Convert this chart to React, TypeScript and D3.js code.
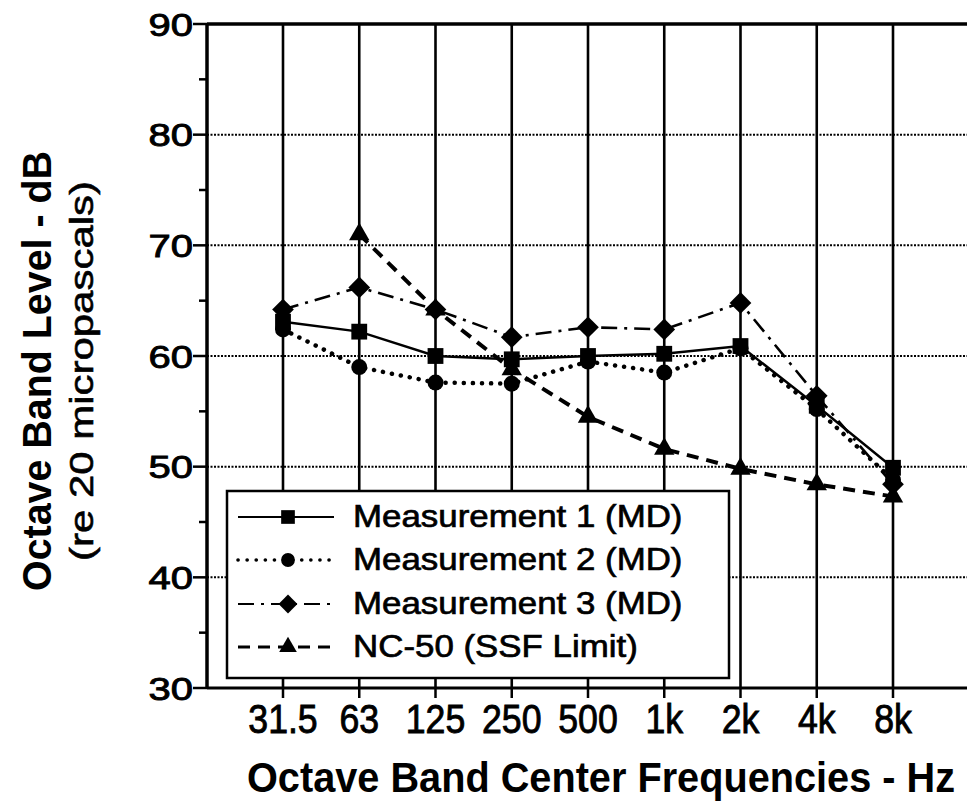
import React, { useEffect, useRef } from "react";
import * as d3 from "d3";

// octave band centre frequencies
const categories = ["31.5", "63", "125", "250", "500", "1k", "2k", "4k", "8k"];

// levels in dB
const measurement1 = [63.1, 62.2, 60.0, 59.7, 60.0, 60.2, 60.9, 55.5, 49.9];
const measurement2 = [62.4, 59.0, 57.6, 57.5, 59.5, 58.5, 60.7, 55.2, 48.8];
const measurement3 = [64.2, 66.2, 64.2, 61.7, 62.6, 62.4, 64.8, 56.4, 48.4];
const nc50 = [null, 71.0, 64.2, 58.8, 54.5, 51.6, 49.8, 48.4, 47.3];

const yTicks = [30, 40, 50, 60, 70, 80, 90];
const yMinorTicks = [35, 45, 55, 65, 75, 85];

const seriesNames = [
  "Measurement 1 (MD)",
  "Measurement 2 (MD)",
  "Measurement 3 (MD)",
  "NC-50 (SSF Limit)",
];

type Style = { dash: string | null; width: number; cap: string; symbol: d3.SymbolType; size: number };

const styles: Style[] = [
  { dash: null, width: 2.4, cap: "butt", symbol: d3.symbolSquare, size: 250 },
  { dash: "0.1,9", width: 4.5, cap: "round", symbol: d3.symbolCircle, size: 200 },
  { dash: "16,7,3,7", width: 2.6, cap: "butt", symbol: d3.symbolDiamond2, size: 300 },
  { dash: "12,8", width: 4, cap: "butt", symbol: d3.symbolTriangle, size: 180 },
];

export default function App() {
  const svgRef = useRef<SVGSVGElement>(null);

  useEffect(() => {
    const svg = d3.select(svgRef.current);
    svg.selectAll("*").remove();

    const left = 207, right = 967, top = 24, bottom = 688;
    const font = "'Liberation Sans', Arial, Helvetica, sans-serif";

    const x = d3.scalePoint<string>().domain(categories).range([283, 893]);
    const y = d3.scaleLinear().domain([30, 90]).range([bottom, top]);

    const g = svg.append("g").attr("font-family", font).attr("fill", "#000");

    // grid
    g.selectAll("line.hgrid")
      .data(yTicks.filter(d => d > 30 && d < 90))
      .enter()
      .append("line")
      .attr("x1", left).attr("x2", right)
      .attr("y1", d => y(d)).attr("y2", d => y(d))
      .attr("stroke", "#000")
      .attr("stroke-width", 2)
      .attr("stroke-dasharray", "2,1.5");

    g.selectAll("line.vgrid")
      .data(categories)
      .enter()
      .append("line")
      .attr("x1", d => x(d)!).attr("x2", d => x(d)!)
      .attr("y1", top).attr("y2", bottom)
      .attr("stroke", "#000")
      .attr("stroke-width", 2.6);

    // axes
    g.append("line")
      .attr("x1", left).attr("x2", right).attr("y1", top).attr("y2", top)
      .attr("stroke", "#000").attr("stroke-width", 3.5);
    g.append("line")
      .attr("x1", left).attr("x2", right).attr("y1", bottom).attr("y2", bottom)
      .attr("stroke", "#000").attr("stroke-width", 3);
    g.append("line")
      .attr("x1", left).attr("x2", left).attr("y1", top - 1).attr("y2", bottom + 1)
      .attr("stroke", "#000").attr("stroke-width", 3.5);

    g.selectAll("line.ytick")
      .data(yTicks)
      .enter()
      .append("line")
      .attr("x1", left - 14).attr("x2", left)
      .attr("y1", d => y(d)).attr("y2", d => y(d))
      .attr("stroke", "#000").attr("stroke-width", 2.5);
    g.selectAll("line.yminor")
      .data(yMinorTicks)
      .enter()
      .append("line")
      .attr("x1", left - 8).attr("x2", left)
      .attr("y1", d => y(d)).attr("y2", d => y(d))
      .attr("stroke", "#000").attr("stroke-width", 2.5);

    g.selectAll("g.ylabel")
      .data(yTicks)
      .enter()
      .append("g")
      .attr("transform", d => `translate(193,${y(d) + 11.5})`)
      .append("text")
      .attr("transform", "scale(1.25,1)")
      .attr("text-anchor", "end")
      .attr("font-size", 32)
      .attr("stroke", "#000").attr("stroke-width", 0.9)
      .text(d => d);

    g.selectAll("line.xtick")
      .data(categories)
      .enter()
      .append("line")
      .attr("x1", d => x(d)!).attr("x2", d => x(d)!)
      .attr("y1", bottom).attr("y2", bottom + 10)
      .attr("stroke", "#000").attr("stroke-width", 2.5);

    g.selectAll("g.xlabel")
      .data(categories)
      .enter()
      .append("g")
      .attr("transform", d => `translate(${x(d)},733)`)
      .append("text")
      .attr("transform", "scale(0.87,1)")
      .attr("text-anchor", "middle")
      .attr("font-size", 41)
      .attr("stroke", "#000").attr("stroke-width", 0.9)
      .text(d => d);

    // titles
    g.append("g")
      .attr("transform", "translate(247,792)")
      .append("text")
      .attr("transform", "scale(1,1.05)")
      .attr("font-size", 40).attr("font-weight", "bold")
      .attr("textLength", 708).attr("lengthAdjust", "spacingAndGlyphs")
      .text("Octave Band Center Frequencies - Hz");

    g.append("text")
      .attr("transform", "translate(51,371) rotate(-90)")
      .attr("text-anchor", "middle")
      .attr("font-size", 40).attr("font-weight", "bold")
      .attr("textLength", 440).attr("lengthAdjust", "spacingAndGlyphs")
      .text("Octave Band Level - dB");

    g.append("text")
      .attr("transform", "translate(93,371) rotate(-90)")
      .attr("text-anchor", "middle")
      .attr("font-size", 34)
      .attr("stroke", "#000").attr("stroke-width", 0.6)
      .attr("textLength", 380).attr("lengthAdjust", "spacingAndGlyphs")
      .text("(re 20 micropascals)");

    // series
    const allSeries = [measurement1, measurement2, measurement3, nc50];
    const line = d3.line<number | null>()
      .defined(d => d !== null)
      .x((d, i) => x(categories[i])!)
      .y(d => y(d as number));

    allSeries.forEach((values, k) => {
      const s = styles[k];
      g.append("path")
        .datum(values)
        .attr("d", line)
        .attr("fill", "none")
        .attr("stroke", "#000")
        .attr("stroke-width", s.width)
        .attr("stroke-linecap", s.cap)
        .attr("stroke-dasharray", s.dash);

      g.selectAll(`path.m${k}`)
        .data(values.map((v, i) => ({ v, c: categories[i] })).filter(d => d.v !== null))
        .enter()
        .append("path")
        .attr("transform", d => `translate(${x(d.c)},${y(d.v as number)})`)
        .attr("d", d3.symbol().type(s.symbol).size(s.size)())
        .attr("fill", "#000");
    });

    // legend
    const legend = g.append("g");
    legend.append("rect")
      .attr("x", 227).attr("y", 491).attr("width", 502).attr("height", 187)
      .attr("fill", "#fff").attr("stroke", "#000").attr("stroke-width", 2.5);

    const baselines = [527, 570, 614, 657];
    seriesNames.forEach((name, k) => {
      const s = styles[k];
      const cy = baselines[k] - 10;
      legend.append("line")
        .attr("x1", 238).attr("x2", 334).attr("y1", cy).attr("y2", cy)
        .attr("stroke", "#000")
        .attr("stroke-width", s.width * 0.8)
        .attr("stroke-linecap", s.cap)
        .attr("stroke-dasharray", s.dash);
      legend.append("path")
        .attr("transform", `translate(288,${cy})`)
        .attr("d", d3.symbol().type(s.symbol).size(s.size * 0.75)())
        .attr("fill", "#000");
      legend.append("g")
        .attr("transform", `translate(353,${baselines[k]})`)
        .append("text")
        .attr("transform", "scale(1.09,1)")
        .attr("font-size", 32)
        .attr("stroke", "#000").attr("stroke-width", 0.7)
        .text(name);
    });
  }, []);

  return (
    <svg
      ref={svgRef}
      width={967}
      height={804}
      style={{ position: "absolute", left: 0, top: 0, background: "#fff" }}
    />
  );
}
